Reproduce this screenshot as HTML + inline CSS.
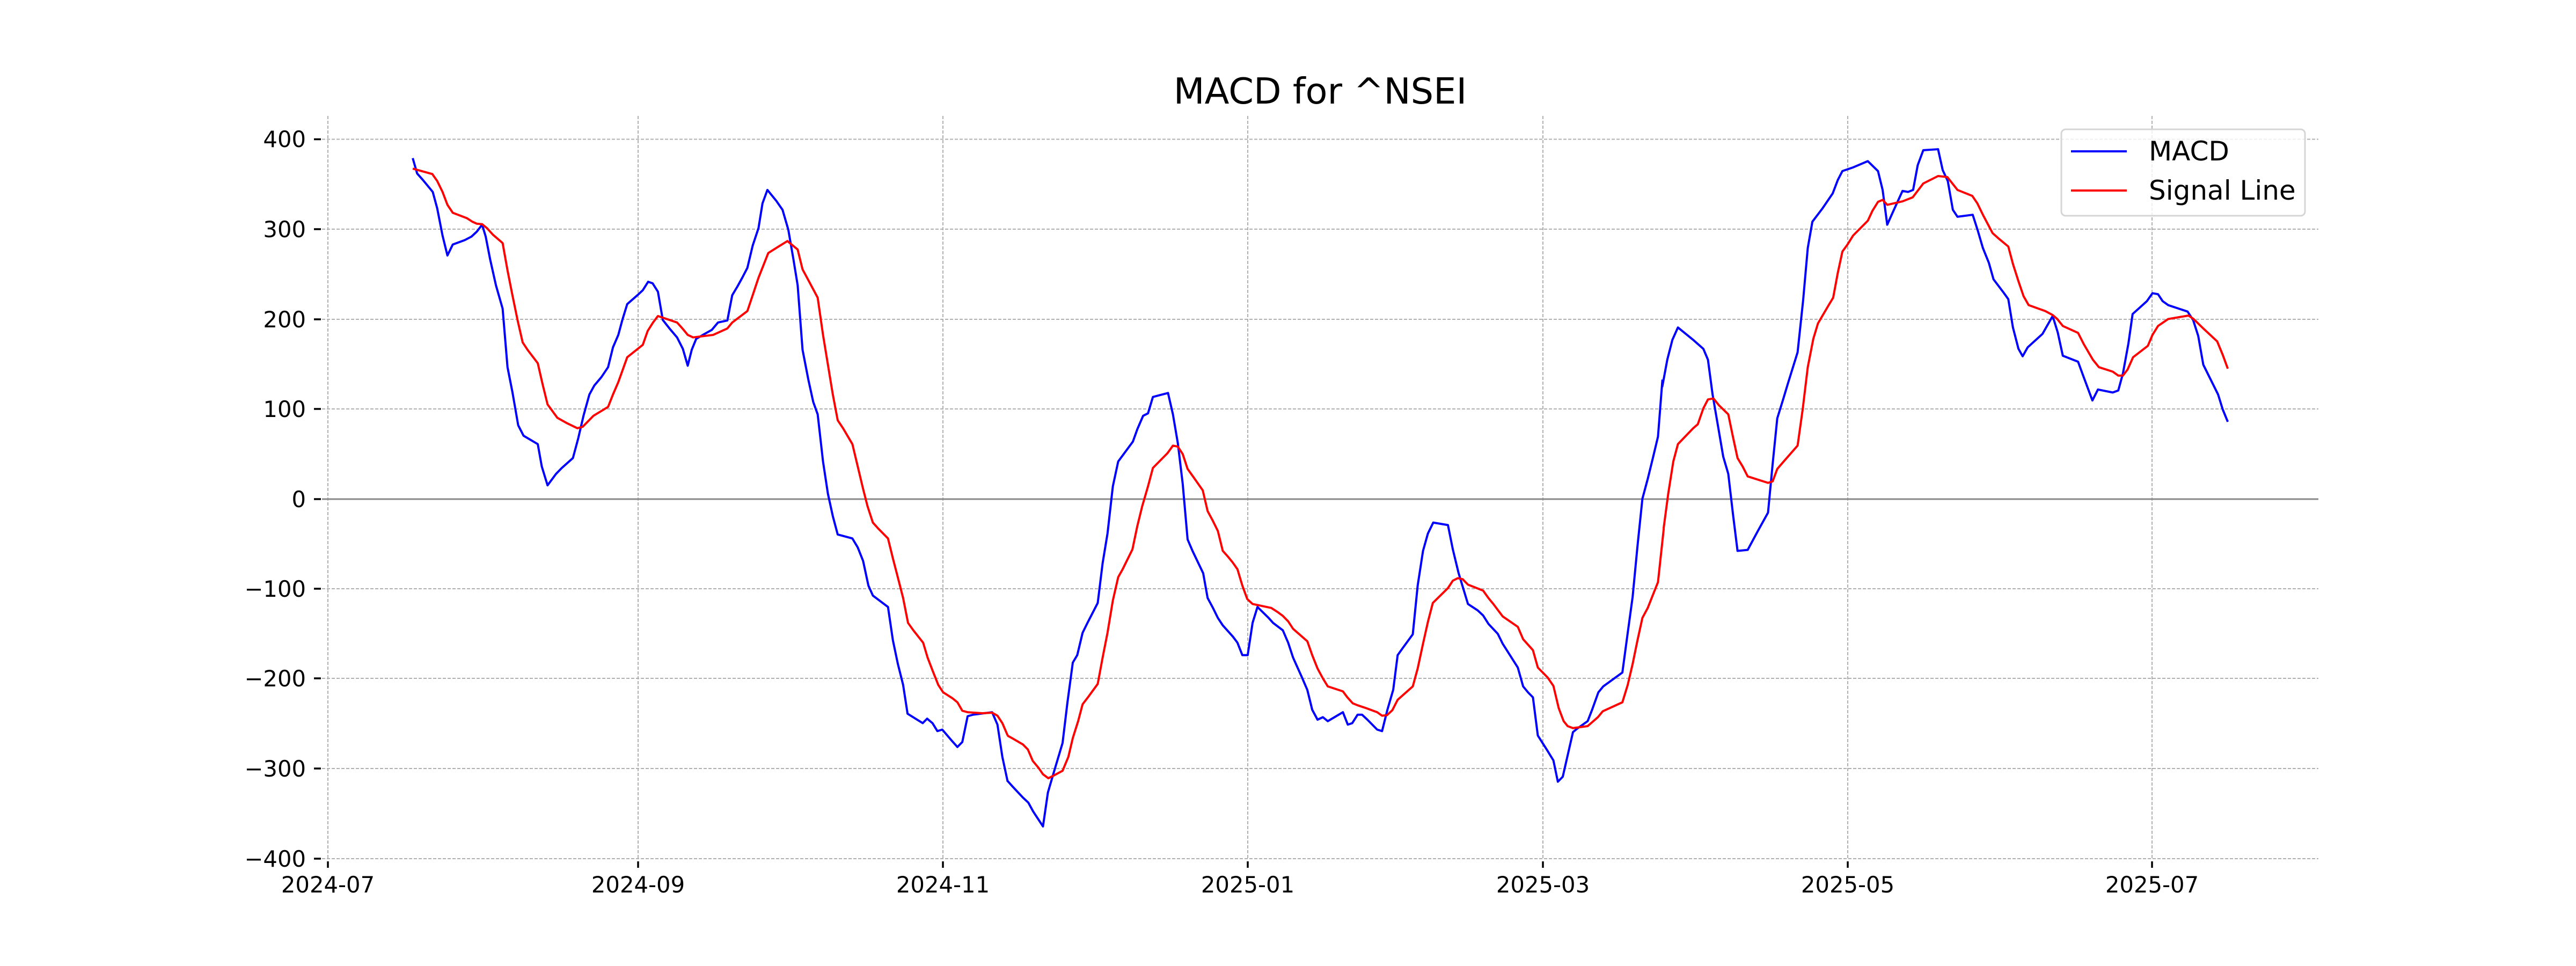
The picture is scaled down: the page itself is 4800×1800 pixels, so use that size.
<!DOCTYPE html>
<html><head><meta charset="utf-8"><style>
html,body{margin:0;padding:0;background:#fff;}
svg{display:block;}
text{font-family:"DejaVu Sans","Liberation Sans",sans-serif;fill:#000;}
</style></head><body>
<svg width="4800" height="1800" viewBox="0 0 4800 1800" xmlns="http://www.w3.org/2000/svg">
<rect width="4800" height="1800" fill="#fff"/>
<g stroke="#b0b0b0" stroke-width="2" stroke-dasharray="6,3" fill="none">
<line x1="600" x2="4320" y1="259.5" y2="259.5"/>
<line x1="600" x2="4320" y1="427" y2="427"/>
<line x1="600" x2="4320" y1="595" y2="595"/>
<line x1="600" x2="4320" y1="762" y2="762"/>
<line x1="600" x2="4320" y1="1097" y2="1097"/>
<line x1="600" x2="4320" y1="1264" y2="1264"/>
<line x1="600" x2="4320" y1="1432" y2="1432"/>
<line x1="600" x2="4320" y1="1600" y2="1600"/>
<line x1="611" x2="611" y1="216" y2="1602"/>
<line x1="1189" x2="1189" y1="216" y2="1602"/>
<line x1="1757" x2="1757" y1="216" y2="1602"/>
<line x1="2325" x2="2325" y1="216" y2="1602"/>
<line x1="2875" x2="2875" y1="216" y2="1602"/>
<line x1="3443" x2="3443" y1="216" y2="1602"/>
<line x1="4010" x2="4010" y1="216" y2="1602"/>
</g>
<line x1="600" x2="4320" y1="930" y2="930" stroke="#888" stroke-width="3"/>
<g stroke="#000" stroke-width="3.5">
<line x1="585" x2="598" y1="259.5" y2="259.5"/><line x1="585" x2="598" y1="427" y2="427"/>
<line x1="585" x2="598" y1="595" y2="595"/><line x1="585" x2="598" y1="762" y2="762"/>
<line x1="585" x2="598" y1="930" y2="930"/><line x1="585" x2="598" y1="1097" y2="1097"/>
<line x1="585" x2="598" y1="1264" y2="1264"/><line x1="585" x2="598" y1="1432" y2="1432"/>
<line x1="585" x2="598" y1="1600" y2="1600"/>
<line x1="611" x2="611" y1="1605" y2="1617"/><line x1="1189" x2="1189" y1="1605" y2="1617"/>
<line x1="1757" x2="1757" y1="1605" y2="1617"/><line x1="2325" x2="2325" y1="1605" y2="1617"/>
<line x1="2875" x2="2875" y1="1605" y2="1617"/><line x1="3443" x2="3443" y1="1605" y2="1617"/>
<line x1="4010" x2="4010" y1="1605" y2="1617"/>
</g>
<g font-size="41.7" text-anchor="end">
<text x="570" y="274">400</text><text x="570" y="442">300</text><text x="570" y="610">200</text>
<text x="570" y="777">100</text><text x="570" y="945">0</text><text x="570" y="1112">−100</text>
<text x="570" y="1279">−200</text><text x="570" y="1447">−300</text><text x="570" y="1615">−400</text>
</g>
<g font-size="41.7" text-anchor="middle">
<text x="611" y="1663">2024-07</text><text x="1189" y="1663">2024-09</text><text x="1757" y="1663">2024-11</text>
<text x="2325" y="1663">2025-01</text><text x="2875" y="1663">2025-03</text><text x="3443" y="1663">2025-05</text>
<text x="4010" y="1663">2025-07</text>
</g>
<text x="2460" y="193" font-size="67" text-anchor="middle">MACD for ^NSEI</text>
<g fill="none" stroke-width="4" stroke-linejoin="round">
<g transform="translate(580,180) scale(0.8292,0.9251)">
<polyline vector-effect="non-scaling-stroke" stroke="#0000ff" points="228,124 238,155 250,167 262,180 273,192 283,225 295,280 306,320 318,298 345,289 360,282 372,272 384,258 392,282 402,328 415,380 430,427 441,545 452,595 465,662 477,683 509,700 518,745 531,783 550,760 563,748 588,728 600,688 612,642 625,600 636,582 652,565 667,545 678,505 690,480 699,450 710,418 733,400 745,390 757,373 767,376 779,393 790,450 805,467 822,485 835,508 846,542 855,510 865,488 880,480 900,470 914,455 935,451 946,400 958,382 969,364 980,345 992,300 1005,265 1014,215 1025,188 1045,210 1059,228 1072,268 1083,325 1093,380 1104,510 1117,570 1128,615 1138,640 1150,735 1161,800 1172,845 1183,882 1216,890 1228,908 1240,935 1252,985 1262,1005 1296,1028 1307,1095 1318,1142 1330,1185 1340,1243 1374,1262 1384,1253 1396,1262 1407,1278 1418,1275 1440,1298 1452,1310 1463,1300 1475,1248 1487,1245 1530,1240 1542,1265 1553,1330 1565,1380"/>
<polyline vector-effect="non-scaling-stroke" stroke="#ff0000" points="228,145 272,156 283,170 295,192 306,218 318,234 350,245 362,252 372,256 384,257 395,265 408,278 430,295 441,350 452,400 464,452 475,495 486,510 509,537 520,580 531,620 553,647 575,658 598,668 610,665 634,643 667,625 678,600 690,575 710,525 745,500 756,472 768,455 779,442 822,455 835,468 846,480 858,485 903,480 935,467 946,455 980,432 992,400 1005,365 1027,315 1050,302 1070,291 1093,308 1104,348 1116,368 1138,405 1150,480 1161,540 1172,600 1183,652 1195,668 1216,700 1228,745 1240,790 1250,825 1262,858 1274,870 1296,890 1307,930 1318,968 1330,1010 1341,1060 1353,1075 1375,1100 1385,1130 1397,1158 1409,1185 1420,1200 1441,1212 1452,1220 1463,1237 1475,1240 1508,1242 1530,1241 1542,1247 1553,1262 1565,1287"/>
</g>
<g transform="translate(1800,180) scale(0.8292,0.9251)">
<polyline vector-effect="non-scaling-stroke" stroke="#0000ff" points="93,1378 105,1390 128,1412 140,1422 151,1440 173,1470 184,1402 196,1365 217,1302 228,1220 240,1140 250,1125 262,1080 273,1060 296,1020 307,940 318,880 330,785 342,735 375,695 385,670 398,643 409,638 420,605 454,597 465,640 476,698 487,780 498,892 509,915 533,960 543,1010 555,1030 566,1050 577,1065 600,1088 610,1100 621,1125 633,1125 644,1060 655,1028 680,1050 690,1060 712,1075 724,1100 735,1130 755,1170 767,1195 778,1235 790,1255 802,1250 813,1258 847,1240 858,1265 868,1262 880,1245 890,1245 902,1255 924,1275 935,1278 947,1235 960,1195 970,1125 982,1110 1004,1083 1015,985 1027,915 1038,880 1050,858 1083,863 1094,912 1107,960 1128,1022 1150,1035 1162,1045 1174,1062 1195,1082 1206,1102 1240,1150 1252,1188 1263,1200 1274,1210 1285,1287 1307,1318 1320,1337 1330,1380 1341,1370 1364,1280 1375,1272 1397,1258 1407,1235 1421,1200 1432,1188 1475,1160 1487,1080 1498,1008 1509,905 1520,810 1532,770 1543,730 1555,685 1565,570"/>
<polyline vector-effect="non-scaling-stroke" stroke="#ff0000" points="93,1287 105,1293 128,1305 139,1315 150,1338 163,1352 173,1365 185,1373 196,1368 217,1358 230,1330 240,1292 252,1258 262,1224 274,1210 296,1183 307,1130 318,1080 330,1015 342,968 352,952 374,912 385,865 396,825 409,785 420,748 442,728 453,718 465,703 476,705 487,720 498,750 510,765 532,793 543,835 555,855 566,875 577,915 589,927 599,938 610,952 621,985 632,1012 644,1022 686,1030 700,1038 712,1046 724,1057 735,1072 767,1097 778,1125 790,1152 802,1172 813,1188 847,1198 857,1210 869,1222 880,1226 900,1232 924,1240 935,1247 946,1246 958,1236 970,1215 1004,1188 1015,1152 1027,1102 1038,1058 1049,1020 1083,990 1094,975 1105,970 1116,972 1128,983 1162,995 1174,1010 1185,1022 1206,1047 1240,1068 1252,1093 1274,1115 1285,1150 1307,1170 1320,1187 1332,1232 1343,1258 1352,1268 1364,1272 1397,1268 1420,1250 1431,1238 1475,1220 1487,1185 1498,1143 1509,1095 1520,1050 1532,1030 1543,1005 1555,978 1568,870"/>
</g>
<g transform="translate(3000,180) scale(0.8610,0.9251)">
<polyline vector-effect="non-scaling-stroke" stroke="#0000ff" points="113,585 124,530 135,490 147,465 180,490 202,508 212,530 222,600 234,665 245,725 256,760 266,840 276,915 298,913 320,875 342,838 352,740 362,648 374,612 385,578 396,545 406,515 418,410 428,305 438,252 460,225 482,195 493,168 503,150 525,143 558,130 580,150 590,188 600,258 612,233 633,190 645,192 656,188 666,138 678,108 710,106 720,148 731,170 742,228 752,242 785,238 796,270 807,305 820,335 830,368 852,395 862,408 872,465 884,508 893,523 904,505 936,478 958,442 969,475 980,522 1013,534 1024,562 1044,612 1056,590 1088,596 1100,592 1110,558 1122,497 1131,438 1162,412 1174,396 1186,398 1196,412 1208,420 1250,433 1262,450 1273,482 1284,540 1300,570 1316,600 1326,630 1337,655"/>
<polyline vector-effect="non-scaling-stroke" stroke="#ff0000" points="116,870 126,800 137,735 147,700 180,668 190,660 202,628 212,610 224,608 236,622 256,640 266,685 276,728 287,745 298,765 342,778 352,775 362,750 374,737 406,703 417,630 428,545 440,488 450,457 472,422 483,405 493,355 503,312 514,298 526,280 558,250 568,230 580,212 590,208 600,218 633,211 655,203 678,175 710,160 730,162 752,188 784,200 795,215 807,238 828,275 840,285 862,302 872,337 884,372 895,402 906,420 942,432 958,440 968,448 980,462 1013,476 1025,498 1045,530 1058,545 1088,554 1100,562 1110,562 1120,550 1132,525 1164,502 1174,480 1186,462 1208,448 1252,441 1263,448 1284,467 1314,493 1326,520 1337,548"/>
</g>
</g>
<rect x="3841" y="241" width="454" height="161" rx="8" fill="#fff" fill-opacity="0.8" stroke="#d5d5d5" stroke-width="3"/>
<line x1="3859" x2="3963" y1="282" y2="282" stroke="#0000ff" stroke-width="4"/>
<line x1="3859" x2="3963" y1="355" y2="355" stroke="#ff0000" stroke-width="4"/>
<text x="4004" y="299" font-size="50">MACD</text>
<text x="4004" y="372" font-size="50">Signal Line</text>
</svg>
</body></html>
